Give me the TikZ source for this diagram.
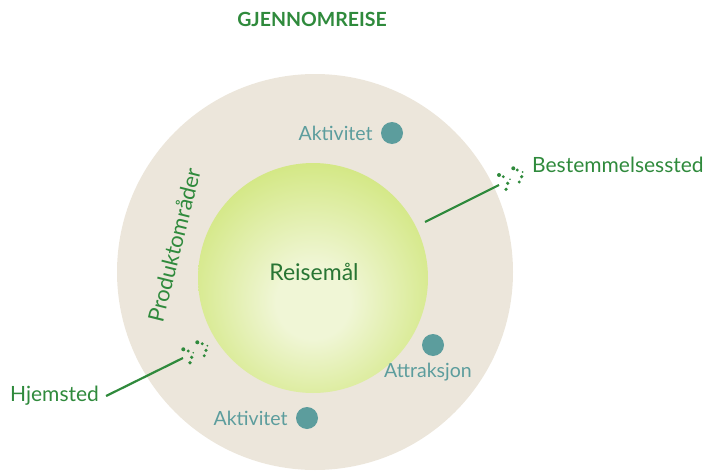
\documentclass[tikz,border=0pt]{standalone}
\usepackage{fontspec}
\setmainfont{Lato}
\usetikzlibrary{positioning}
\definecolor{reisegreen}{HTML}{2F8A3C}
\definecolor{reiseteal}{HTML}{5C9D9D}
\definecolor{reisebeige}{HTML}{ECE6DB}
\definecolor{reiselight}{HTML}{F0F6D6}
\definecolor{reisemid}{HTML}{D4E886}
\definecolor{reisedark}{HTML}{B8D42A}
\pgfdeclareradialshading{reiseglow}{\pgfpoint{0bp}{-6bp}}{color(0bp)=(reiselight); color(8bp)=(reiselight); color(28bp)=(reisemid); color(45bp)=(reisedark); color(60bp)=(reisedark)}
\begin{document}
\begin{tikzpicture}
      [x=1pt, y=-1pt,
       label text/.style={text=reisegreen, font=\fontsize{21}{23}\selectfont, inner sep=1pt},
       item text/.style={text=reiseteal, font=\fontsize{19.5}{21}\selectfont, inner sep=1pt},
       item dot/.style={circle, fill=reiseteal, minimum size=22pt, inner sep=0pt},
       link/.style={draw=reisegreen, line width=2.2pt},
       speck/.style={fill=reisegreen}]
      \useasboundingbox (0,0) rectangle (705,471);
      \clip (0,0) rectangle (705,471);

      \node[text=reisegreen, font=\bfseries\fontsize{19.5}{21}\selectfont] (title) at (312,19) {GJENNOMREISE};

      \fill[reisebeige] (315,272) circle[radius=198pt];
      \shade[shading=reiseglow] (313,278) circle[radius=115pt];

      \node[label text, font=\fontsize{23}{25}\selectfont, text=reisegreen!85!black] (reise) at (314,272) {Reisemål};
      \node[label text, font=\fontsize{22}{24}\selectfont, rotate=76] (produkt) at (174,245) {Produktområder};

      \node[item dot] (dot1) at (392,133) {};
      \node[item text, left=7pt of dot1] (akt1) {Aktivitet};
      \node[item dot] (dot2) at (433,345) {};
      \node[item text, below=6pt of dot2, xshift=-5pt] (attr) {Attraksjon};
      \node[item dot] (dot3) at (307,418) {};
      \node[item text, left=7pt of dot3] (akt2) {Aktivitet};

      \node[label text, anchor=west] (best) at (531,165) {Bestemmelsessted};
      \node[label text, anchor=west] (hjem) at (9,396) {Hjemsted};

      \coordinate (bestend) at (425,222);
      \coordinate (bestdots) at (499,185);
      \coordinate (hjemdots) at (183,358);
      \draw[link] (bestend) -- (bestdots);
      \draw[link] (hjem.east) ++(6,0) -- (hjemdots);

      \foreach \x/\y/\r in {499/175/2, 503.3/176.7/1.6, 513.3/168.3/2, 517.3/170/1.6, 522.7/172/1,
                            521.7/176.7/1.8, 519.3/182/1.6, 507.7/183.3/1.8, 506/189.3/1.8, 510/179.3/0.9}
        \fill[speck] (\x,\y) circle[radius=\r pt];
      \foreach \x/\y/\r in {183.3/349.3/2, 188.3/351/1.6, 197.3/342.3/2, 202.3/343.7/1.6, 207.3/345.7/1,
                            206/350.3/1.8, 204.3/355.7/1.6, 191.7/357.3/1.8, 190/362.7/1.8, 193.3/352.7/0.9}
        \fill[speck] (\x,\y) circle[radius=\r pt];
\end{tikzpicture}
\end{document}
